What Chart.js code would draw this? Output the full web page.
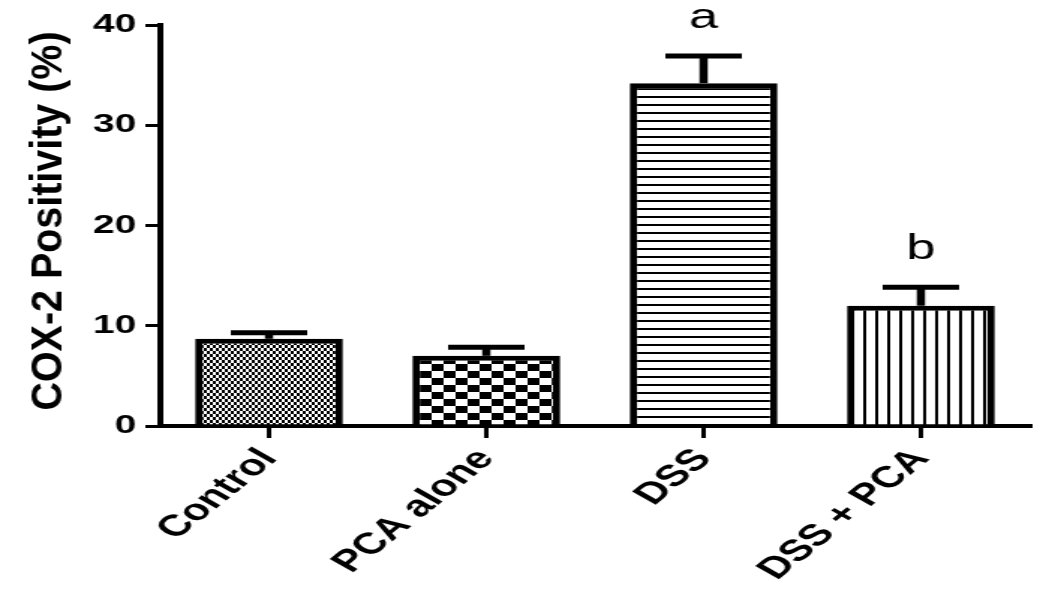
<!DOCTYPE html>
<html><head><meta charset="utf-8">
<script src="https://cdn.jsdelivr.net/npm/chart.js@4"></script>
<style>
html,body{margin:0;padding:0;background:#fff;overflow:hidden;width:1037px;height:592px;}
#wrap{position:absolute;left:0;top:0;width:692px;height:592px;transform:scaleX(1.4986);transform-origin:0 0;}
</style></head><body>
<div id="wrap"><canvas id="c"></canvas></div>
<script>
const categories = ['Control', 'PCA alone', 'DSS', 'DSS + PCA'];
const meanValues = [8.7, 7.0, 34.2, 12.0];
const semValues = [0.6, 0.85, 2.7, 1.85];
const significance = ['', '', 'a', 'b'];
const yTicks = [0, 10, 20, 30, 40];
const yTitle = 'COX-2 Positivity (%)';

Chart.defaults.font.family = "'Liberation Sans', Arial, sans-serif";
Chart.defaults.color = '#000';

function makeTile(w, h, draw) {
  const c = document.createElement('canvas');
  c.width = w; c.height = h;
  const g = c.getContext('2d');
  g.fillStyle = '#fff'; g.fillRect(0, 0, w, h);
  g.fillStyle = '#000';
  draw(g);
  return g.createPattern(c, 'repeat');
}
function checker(w, h) {
  return makeTile(2 * w, 2 * h, g => { g.fillRect(0, 0, w, h); g.fillRect(w, h, w, h); });
}
const patterns = [
  checker(2, 3),
  checker(8, 7),
  makeTile(4, 8, g => g.fillRect(0, 0, 4, 2)),
  makeTile(8, 4, g => g.fillRect(0, 0, 2, 4))
];

const errorBarPlugin = {
  id: 'errorBars',
  afterDatasetsDraw(chart) {
    const ctx = chart.ctx, y = chart.scales.y;
    const meta = chart.getDatasetMeta(0);
    ctx.save();
    ctx.strokeStyle = '#000';
    meta.data.forEach((bar, i) => {
      const top = y.getPixelForValue(meanValues[i]);
      const err = y.getPixelForValue(meanValues[i] + semValues[i]);
      ctx.lineWidth = 5.5;
      ctx.beginPath();
      ctx.moveTo(bar.x, top); ctx.lineTo(bar.x, err);
      ctx.stroke();
      ctx.lineWidth = 5;
      ctx.beginPath();
      ctx.moveTo(bar.x - 25.5, err); ctx.lineTo(bar.x + 25.5, err);
      ctx.stroke();
      if (significance[i]) {
        ctx.fillStyle = '#000';
        ctx.font = "35px 'Liberation Sans', Arial, sans-serif";
        ctx.textAlign = 'center';
        ctx.textBaseline = 'alphabetic';
        ctx.fillText(significance[i], bar.x, err - 28);
      }
    });
    ctx.restore();
  }
};

const yTitlePlugin = {
  id: 'yTitle',
  afterDraw(chart) {
    const ctx = chart.ctx;
    ctx.save();
    ctx.translate(33.4, 221);
    ctx.rotate(-Math.PI / 2);
    ctx.scale(1.36, 1);
    ctx.fillStyle = '#000';
    ctx.font = "bold 29px 'Liberation Sans', Arial, sans-serif";
    ctx.textAlign = 'center';
    ctx.textBaseline = 'middle';
    ctx.fillText(yTitle, 0, 0);
    ctx.restore();
  }
};

new Chart(document.getElementById('c'), {
  type: 'bar',
  data: {
    labels: categories,
    datasets: [{
      data: meanValues,
      backgroundColor: patterns,
      borderColor: '#000',
      borderWidth: 5,
      borderSkipped: 'bottom',
      categoryPercentage: 1,
      barPercentage: 0.68
    }]
  },
  options: {
    responsive: true,
    maintainAspectRatio: false,
    animation: false,
    layout: { padding: { top: 25, right: 5, left: 0, bottom: 0 } },
    plugins: { legend: { display: false }, tooltip: { enabled: false } },
    scales: {
      x: {
        grid: { display: true, offset: false, drawOnChartArea: false, drawTicks: true, tickLength: 12, color: '#000', lineWidth: 3 },
        border: { display: true, color: '#000', width: 4 },
        ticks: { color: '#000', font: { size: 30, weight: 'bold' }, minRotation: 50, maxRotation: 50, padding: 4, autoSkip: false },
        afterFit(s) { s.height = 166; }
      },
      y: {
        min: 0, max: 40,
        grid: { display: true, drawOnChartArea: false, drawTicks: true, tickLength: 10, color: '#000', lineWidth: 3 },
        border: { display: true, color: '#000', width: 4 },
        ticks: { color: '#000', font: { size: 26, weight: 'bold' }, padding: 6 },
        afterBuildTicks(s) { s.ticks = yTicks.map(v => ({ value: v })); },
        afterFit(s) { s.width = 107; }
      }
    }
  },
  plugins: [errorBarPlugin, yTitlePlugin]
});
</script>
</body></html>
